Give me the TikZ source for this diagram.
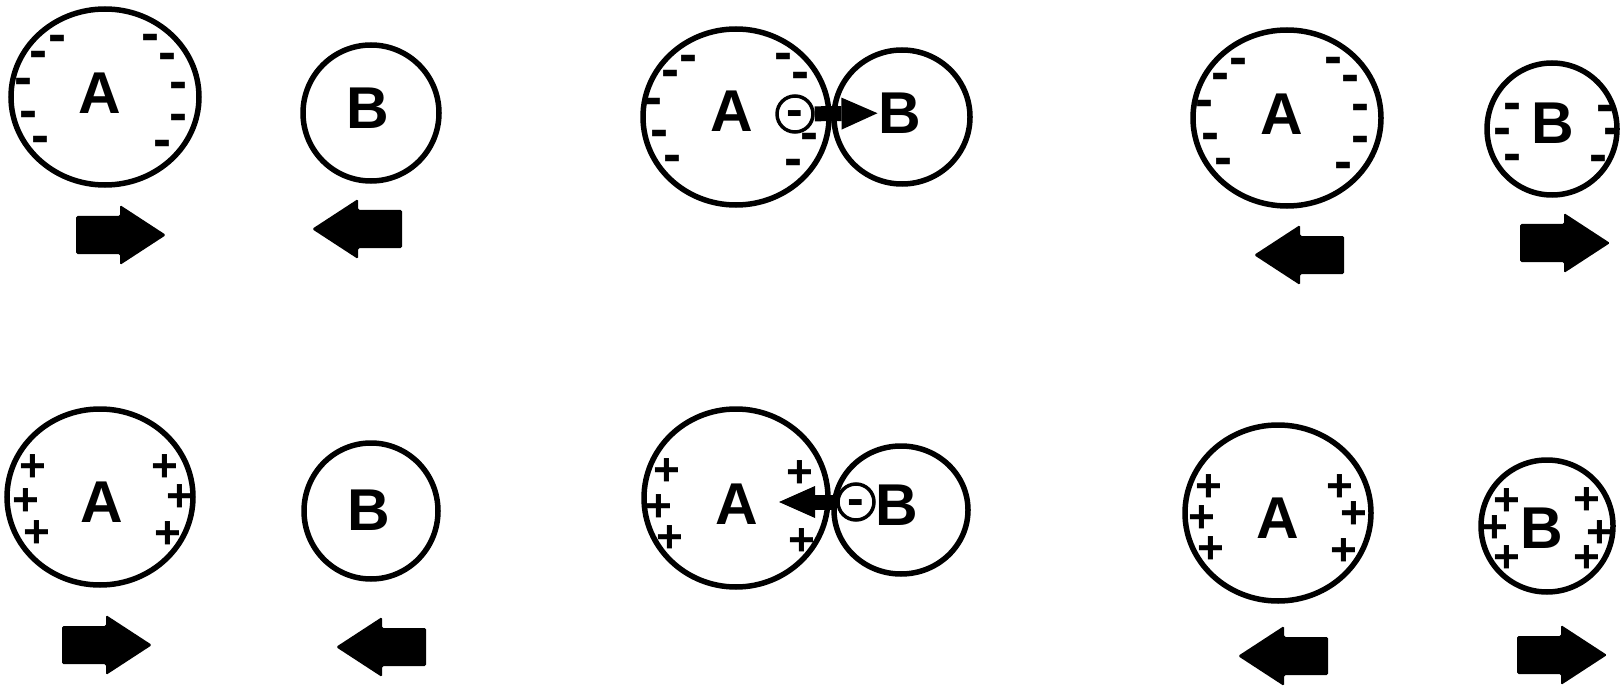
\documentclass[tikz,border=0pt]{standalone}
\usepackage{fontspec}
\setmainfont{Liberation Sans}
\usetikzlibrary{arrows.meta}

\tikzset{
  ball/.style={line width=5.5pt},
  lbl/.style={font=\bfseries\fontsize{59}{59}\selectfont, inner sep=1pt},
  minusmark/.style={font=\bfseries\fontsize{54}{54}\selectfont, inner sep=0pt, text height=28pt, text depth=0pt},
  plusmark/.style={font=\bfseries\fontsize{46}{46}\selectfont, inner sep=0pt, text height=31pt, text depth=0pt},
  elec/.style={draw, circle, line width=3.5pt, minimum size=36pt, inner sep=0pt,
    font=\bfseries\fontsize{50}{50}\selectfont, text height=26pt, text depth=0pt},
  flow/.style={line width=15pt, -{Triangle[length=36pt,width=32pt,line width=0pt]}},
}

% 太い矢印（先端x, 中心y, 向き）
\newcommand{\blkarrow}[3]{%
  \fill[rounded corners=1.5pt] (#1,#2) -- ++({-46*(#3)},-30) -- ++(0,11) -- ++({-44*(#3)},0)
    -- ++(0,38) -- ++({44*(#3)},0) -- ++(0,11) -- cycle;
}

\begin{document}
\begin{tikzpicture}[x=1pt,y=-1pt]
    \useasboundingbox (0,0) rectangle (1622,687);

    % 上段左：負に帯電したAと中性のB
    \draw[ball] (105,97) ellipse [x radius=94, y radius=88];
    \draw[ball] (371,113) ellipse [x radius=68, y radius=68];
    \node[lbl] (a1) at (100,93) {A};
    \node[lbl] (b1) at (368,108) {B};
    \foreach \x/\y [count=\i] in {57/39,38/55,23/82,28/115,40/140,150/38,167/57,178/86,178/118,162/144}
        \node[minusmark] (n1-\i) at (\x,\y) {-};
    \blkarrow{166}{235}{1}
    \blkarrow{312}{229}{-1}

    % 上段中：接触して電子がBへ
    \draw[ball] (736,117) ellipse [x radius=93, y radius=88];
    \draw[ball] (902,117) ellipse [x radius=68, y radius=67];
    \node[lbl] (a2) at (732,111) {A};
    \node[lbl] (b2) at (900,113) {B};
    \foreach \x/\y [count=\i] in {688/59,670/74,653/102,659/134,672/159,783/57,800/76,809/137,793/163}
        \node[minusmark] (n2-\i) at (\x,\y) {-};
    \node[elec] (e1) at (795,114) {-};
    \draw[flow] (e1) -- (b2);

    % 上段右：両方とも負に帯電
    \draw[ball] (1287,118) ellipse [x radius=94, y radius=88];
    \draw[ball] (1552,129) ellipse [x radius=65, y radius=66];
    \node[lbl] (a3) at (1282,114) {A};
    \node[lbl] (b3) at (1553,123) {B};
    \foreach \x/\y [count=\i] in {1238/62,1220/77,1204/104,1210/137,1223/162,1333/61,1350/79,1360/108,1360/140,1343/166,
        1512/107,1502/132,1512/158,1605/109,1612/132,1598/159}
        \node[minusmark] (n3-\i) at (\x,\y) {-};
    \blkarrow{1254}{255}{-1}
    \blkarrow{1610}{243}{1}

    % 下段左：正に帯電したAと中性のB
    \draw[ball] (100,497) ellipse [x radius=93, y radius=88];
    \draw[ball] (371,511) ellipse [x radius=67, y radius=68];
    \node[lbl] (a4) at (102,502) {A};
    \node[lbl] (b4) at (369,510) {B};
    \foreach \x/\y [count=\i] in {33/466,26/500,37/532,165/466,180/496,168/533}
        \node[plusmark] (p4-\i) at (\x,\y) {+};
    \blkarrow{152}{645}{1}
    \blkarrow{336}{647}{-1}

    % 下段中：接触して電子がAへ
    \draw[ball] (736,498) ellipse [x radius=92, y radius=89];
    \draw[ball] (901,510) ellipse [x radius=67, y radius=64];
    \node[lbl] (a5) at (737,504) {A};
    \node[lbl] (b5) at (897,505) {B};
    \foreach \x/\y [count=\i] in {667/470,659/506,670/537,800/472,802/540}
        \node[plusmark] (p5-\i) at (\x,\y) {+};
    \node[elec] (e2) at (856,502) {-};
    \coordinate (t2) at (779,502);
    \draw[flow] (e2) -- (t2);

    % 下段右：両方とも正に帯電
    \draw[ball] (1278,513) ellipse [x radius=93, y radius=88];
    \draw[ball] (1547,526) ellipse [x radius=66, y radius=66];
    \node[lbl] (a6) at (1278,518) {A};
    \node[lbl] (b6) at (1542,528) {B};
    \foreach \x/\y [count=\i] in {1209/486,1202/517,1211/548,1340/486,1354/513,1344/550,
        1507/500,1495/527,1507/557,1587/499,1600/532,1587/557}
        \node[plusmark] (p6-\i) at (\x,\y) {+};
    \blkarrow{1238}{656}{-1}
    \blkarrow{1607}{655}{1}
\end{tikzpicture}
\end{document}
